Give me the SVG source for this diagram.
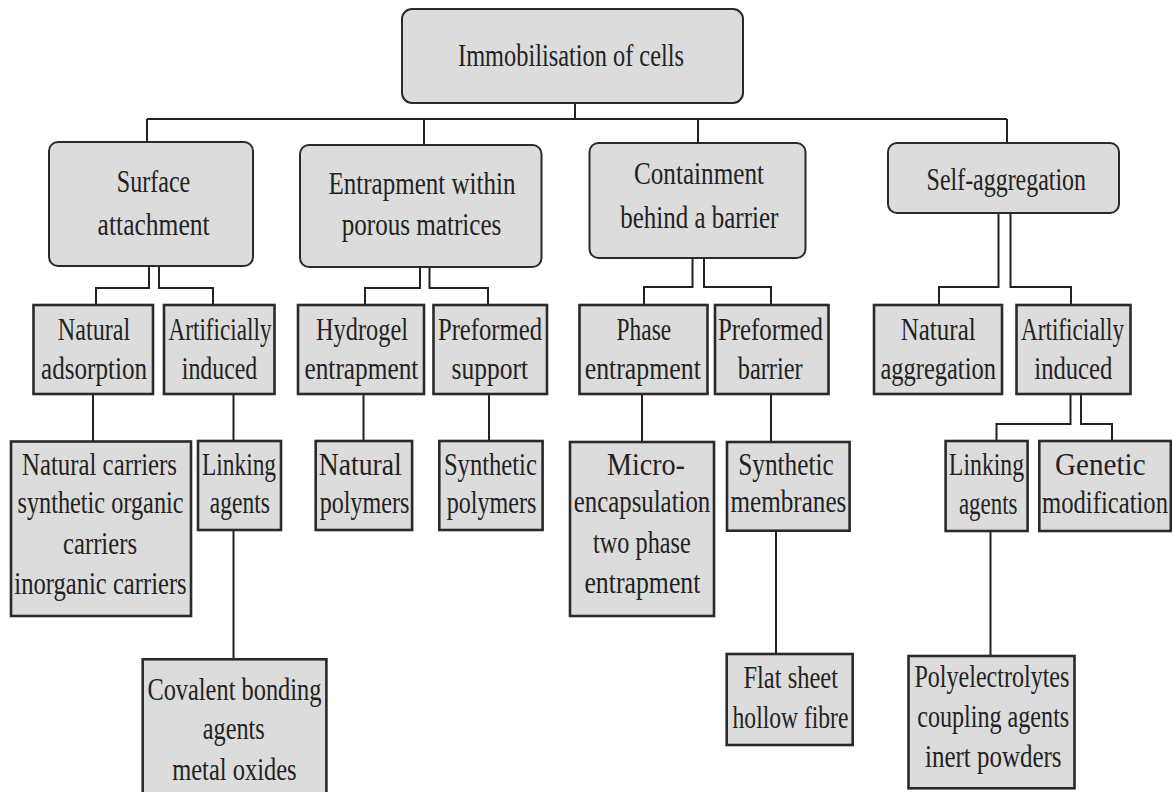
<svg xmlns="http://www.w3.org/2000/svg" width="1172" height="792" viewBox="0 0 1172 792">
<style>
.bg{fill:#ffffff}
.rb{fill:#dcdcdc;stroke:#2a2a2a;stroke-width:2}
.sb{fill:#dcdcdc;stroke:#2a2a2a;stroke-width:2.6}
.t{font-family:"Liberation Serif","Times New Roman",serif;font-size:32px;fill:#222;text-anchor:middle}
.t0{font-size:31px}
.c{fill:none;stroke:#222;stroke-width:2}
</style>
<rect class="bg" x="0" y="0" width="1172" height="792"/>
<g id="connectors">
<path class="c" d="M575,103 V119 M147,119 H1007 M147,119 V142 M424,119 V145 M698,119 V143 M1007,119 V143"/>
<path class="c" d="M149,266 V288 H96 V305 M159,266 V288 H213 V305"/>
<path class="c" d="M420,267 V288 H365 V305 M429.5,267 V288 H488 V305"/>
<path class="c" d="M692.5,258 V287 H644 V305 M704,258 V287 H771 V305"/>
<path class="c" d="M998.5,213 V287 H939 V305 M1010.5,213 V287 H1071 V305"/>
<path class="c" d="M93,394 V441 M233.5,394 V441 M363.5,394 V441 M489,394 V441 M642,394 V442 M771,394 V442"/>
<path class="c" d="M1070.5,394 V424 H996.5 V441 M1081,394 V424 H1112 V441"/>
<path class="c" d="M233.5,530 V659 M776,531 V654 M990.5,531 V656"/>
</g>
<g id="root">
<rect class="rb" x="402" y="9" width="341" height="94" rx="10"/>
<text class="t t0" transform="translate(571,66) scale(0.78,1)" textLength="289.7" lengthAdjust="spacingAndGlyphs">Immobilisation of cells</text>
</g>
<g id="surface">
<rect class="rb" x="49" y="142" width="204" height="124" rx="9"/>
<text class="t" transform="translate(153.5,192) scale(0.78,1)" textLength="94.2" lengthAdjust="spacingAndGlyphs">Surface</text>
<text class="t" transform="translate(153.6,235) scale(0.78,1)" textLength="143.6" lengthAdjust="spacingAndGlyphs">attachment</text>
</g>
<g id="entrapment">
<rect class="rb" x="300" y="145" width="241.5" height="122" rx="9"/>
<text class="t" transform="translate(422,194) scale(0.78,1)" textLength="239.7" lengthAdjust="spacingAndGlyphs">Entrapment within</text>
<text class="t" transform="translate(421.5,235) scale(0.78,1)" textLength="204.6" lengthAdjust="spacingAndGlyphs">porous matrices</text>
</g>
<g id="containment">
<rect class="rb" x="589.5" y="143" width="216" height="115" rx="9"/>
<text class="t" transform="translate(699,184) scale(0.78,1)" textLength="166.7" lengthAdjust="spacingAndGlyphs">Containment</text>
<text class="t" transform="translate(699.3,228) scale(0.78,1)" textLength="202.6" lengthAdjust="spacingAndGlyphs">behind a barrier</text>
</g>
<g id="self-aggregation">
<rect class="rb" x="888" y="143" width="231" height="70" rx="9"/>
<text class="t" transform="translate(1006.3,190) scale(0.78,1)" textLength="204.4" lengthAdjust="spacingAndGlyphs">Self-aggregation</text>
</g>
<g id="natural-adsorption">
<rect class="sb" x="33.5" y="305" width="119.5" height="89"/>
<text class="t" transform="translate(94,340) scale(0.78,1)" textLength="92.9" lengthAdjust="spacingAndGlyphs">Natural</text>
<text class="t" transform="translate(94,379) scale(0.78,1)" textLength="135.9" lengthAdjust="spacingAndGlyphs">adsorption</text>
</g>
<g id="artificially-induced-1">
<rect class="sb" x="164" y="305" width="110.5" height="89"/>
<text class="t" transform="translate(220,340) scale(0.78,1)" textLength="132" lengthAdjust="spacingAndGlyphs">Artificially</text>
<text class="t" transform="translate(219.5,379) scale(0.78,1)" textLength="96.7" lengthAdjust="spacingAndGlyphs">induced</text>
</g>
<g id="hydrogel-entrapment">
<rect class="sb" x="298" y="305" width="126" height="89"/>
<text class="t" transform="translate(362,340) scale(0.78,1)" textLength="117.9" lengthAdjust="spacingAndGlyphs">Hydrogel</text>
<text class="t" transform="translate(361.4,379) scale(0.78,1)" textLength="146" lengthAdjust="spacingAndGlyphs">entrapment</text>
</g>
<g id="preformed-support">
<rect class="sb" x="433.5" y="305" width="113.5" height="89"/>
<text class="t" transform="translate(490,340) scale(0.78,1)" textLength="133.5" lengthAdjust="spacingAndGlyphs">Preformed</text>
<text class="t" transform="translate(489.8,379) scale(0.78,1)" textLength="98.1" lengthAdjust="spacingAndGlyphs">support</text>
</g>
<g id="phase-entrapment">
<rect class="sb" x="579.5" y="305" width="128" height="89"/>
<text class="t" transform="translate(643.9,340) scale(0.78,1)" textLength="70" lengthAdjust="spacingAndGlyphs">Phase</text>
<text class="t" transform="translate(642.8,379) scale(0.78,1)" textLength="149" lengthAdjust="spacingAndGlyphs">entrapment</text>
</g>
<g id="preformed-barrier">
<rect class="sb" x="715" y="305" width="113.5" height="89"/>
<text class="t" transform="translate(770.4,340) scale(0.78,1)" textLength="134.5" lengthAdjust="spacingAndGlyphs">Preformed</text>
<text class="t" transform="translate(770.2,379) scale(0.78,1)" textLength="83.3" lengthAdjust="spacingAndGlyphs">barrier</text>
</g>
<g id="natural-aggregation">
<rect class="sb" x="874" y="305" width="128" height="89"/>
<text class="t" transform="translate(938.2,340) scale(0.78,1)" textLength="96.2" lengthAdjust="spacingAndGlyphs">Natural</text>
<text class="t" transform="translate(938.2,379) scale(0.78,1)" textLength="148" lengthAdjust="spacingAndGlyphs">aggregation</text>
</g>
<g id="artificially-induced-2">
<rect class="sb" x="1016.5" y="305" width="114" height="89"/>
<text class="t" transform="translate(1072.5,340) scale(0.78,1)" textLength="132" lengthAdjust="spacingAndGlyphs">Artificially</text>
<text class="t" transform="translate(1073.3,379) scale(0.78,1)" textLength="100" lengthAdjust="spacingAndGlyphs">induced</text>
</g>
<g id="natural-carriers">
<rect class="sb" x="11" y="441.5" width="180" height="174.5"/>
<text class="t" transform="translate(99.5,475) scale(0.78,1)" textLength="198.7" lengthAdjust="spacingAndGlyphs">Natural carriers</text>
<text class="t" transform="translate(100.5,513) scale(0.78,1)" textLength="213" lengthAdjust="spacingAndGlyphs">synthetic organic</text>
<text class="t" transform="translate(100,554) scale(0.78,1)" textLength="94.9" lengthAdjust="spacingAndGlyphs">carriers</text>
<text class="t" transform="translate(100.5,594) scale(0.78,1)" textLength="221" lengthAdjust="spacingAndGlyphs">inorganic carriers</text>
</g>
<g id="linking-agents-1">
<rect class="sb" x="198" y="441" width="83" height="89"/>
<text class="t" transform="translate(239,475) scale(0.78,1)" textLength="95" lengthAdjust="spacingAndGlyphs">Linking</text>
<text class="t" transform="translate(239.8,513) scale(0.78,1)" textLength="76.9" lengthAdjust="spacingAndGlyphs">agents</text>
</g>
<g id="natural-polymers">
<rect class="sb" x="315.7" y="441" width="96.4" height="89"/>
<text class="t" transform="translate(360.3,475) scale(0.78,1)" textLength="106.4" lengthAdjust="spacingAndGlyphs">Natural</text>
<text class="t" transform="translate(364.5,513) scale(0.78,1)" textLength="115" lengthAdjust="spacingAndGlyphs">polymers</text>
</g>
<g id="synthetic-polymers">
<rect class="sb" x="439.3" y="441" width="103.3" height="89"/>
<text class="t" transform="translate(490.4,475) scale(0.78,1)" textLength="119.2" lengthAdjust="spacingAndGlyphs">Synthetic</text>
<text class="t" transform="translate(491.5,513) scale(0.78,1)" textLength="115" lengthAdjust="spacingAndGlyphs">polymers</text>
</g>
<g id="micro-encapsulation">
<rect class="sb" x="570" y="442" width="144" height="174"/>
<text class="t" transform="translate(645.9,475) scale(0.78,1)" textLength="100" lengthAdjust="spacingAndGlyphs">Micro-</text>
<text class="t" transform="translate(642,512) scale(0.78,1)" textLength="175" lengthAdjust="spacingAndGlyphs">encapsulation</text>
<text class="t" transform="translate(641.9,553) scale(0.78,1)" textLength="125.1" lengthAdjust="spacingAndGlyphs">two phase</text>
<text class="t" transform="translate(642.4,593) scale(0.78,1)" textLength="148.7" lengthAdjust="spacingAndGlyphs">entrapment</text>
</g>
<g id="synthetic-membranes">
<rect class="sb" x="727" y="442" width="122.6" height="88.7"/>
<text class="t" transform="translate(786,475) scale(0.78,1)" textLength="122.6" lengthAdjust="spacingAndGlyphs">Synthetic</text>
<text class="t" transform="translate(788.4,512) scale(0.78,1)" textLength="148.5" lengthAdjust="spacingAndGlyphs">membranes</text>
</g>
<g id="linking-agents-2">
<rect class="sb" x="945.6" y="441" width="82" height="90"/>
<text class="t" transform="translate(986.5,475) scale(0.78,1)" textLength="96.5" lengthAdjust="spacingAndGlyphs">Linking</text>
<text class="t" transform="translate(988.2,514) scale(0.78,1)" textLength="75.1" lengthAdjust="spacingAndGlyphs">agents</text>
</g>
<g id="genetic-modification">
<rect class="sb" x="1039.3" y="441" width="131.5" height="90"/>
<text class="t" transform="translate(1100.3,475) scale(0.78,1)" textLength="116" lengthAdjust="spacingAndGlyphs">Genetic</text>
<text class="t" transform="translate(1105,513) scale(0.78,1)" textLength="161.5" lengthAdjust="spacingAndGlyphs">modification</text>
</g>
<g id="covalent-bonding">
<rect class="sb" x="142.7" y="659.3" width="183.7" height="145"/>
<text class="t" transform="translate(234.4,700) scale(0.78,1)" textLength="223.1" lengthAdjust="spacingAndGlyphs">Covalent bonding</text>
<text class="t" transform="translate(233.8,739) scale(0.78,1)" textLength="79.5" lengthAdjust="spacingAndGlyphs">agents</text>
<text class="t" transform="translate(234.4,780) scale(0.78,1)" textLength="159.5" lengthAdjust="spacingAndGlyphs">metal oxides</text>
</g>
<g id="flat-sheet">
<rect class="sb" x="726.7" y="654" width="126" height="91"/>
<text class="t" transform="translate(790.7,688) scale(0.78,1)" textLength="121.2" lengthAdjust="spacingAndGlyphs">Flat sheet</text>
<text class="t" transform="translate(790.5,728) scale(0.78,1)" textLength="148.5" lengthAdjust="spacingAndGlyphs">hollow fibre</text>
</g>
<g id="polyelectrolytes">
<rect class="sb" x="908.5" y="656" width="166" height="132.3"/>
<text class="t" transform="translate(991.9,687) scale(0.78,1)" textLength="198.7" lengthAdjust="spacingAndGlyphs">Polyelectrolytes</text>
<text class="t" transform="translate(993.2,727) scale(0.78,1)" textLength="194.9" lengthAdjust="spacingAndGlyphs">coupling agents</text>
<text class="t" transform="translate(993.3,767) scale(0.78,1)" textLength="175.1" lengthAdjust="spacingAndGlyphs">inert powders</text>
</g>
</svg>
